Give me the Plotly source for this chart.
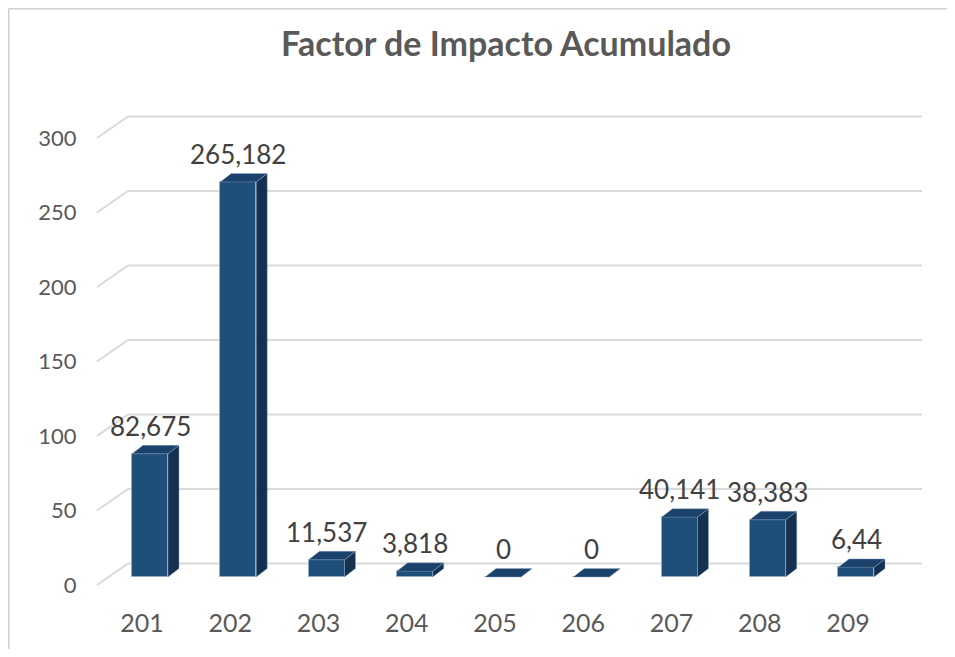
import plotly.graph_objects as go

# ---------------- data ----------------
categories = ["201", "202", "203", "204", "205", "206", "207", "208", "209"]
values = [82.675, 265.182, 11.537, 3.818, 0, 0, 40.141, 38.383, 6.44]
y_ticks = [0, 50, 100, 150, 200, 250, 300]
title_text = "Factor de Impacto Acumulado"

# ---------------- geometry (page pixels -> figure -> data units) ----------------
OFF = 8                      # page offset of the figure (body margin)
W, H = 955 - 2 * OFF, 657 - 2 * OFF
L, R, T, B = 90 - OFF, 5, 95 - OFF, 60 - OFF
PX_X = 88.25                 # pixels per category step
PX_Y = 1.49                  # pixels per value unit
X0_PX = 150.0 - OFF          # figure px of first bar centre
Y0_PX = 577.0 - OFF          # figure px of zero on the bar plane

x_range = [(L - X0_PX) / PX_X, (W - R - X0_PX) / PX_X]
y_range = [(Y0_PX - (H - B)) / PX_Y, (Y0_PX - T) / PX_Y]


def px_to_x(page_px):
    return (page_px - OFF - X0_PX) / PX_X


bar_w = 36 / PX_X            # bar width in x units
dep_x = 11 / PX_X            # bar depth offset (x)
dep_y = 8.5 / PX_Y           # bar depth offset (y)

# gridline planes
front_x = px_to_x(97)
back_x = px_to_x(128)
end_x = px_to_x(922)
front_dy = -8 / PX_Y
back_dy = 13.5 / PX_Y

FRONT = "#1F4E79"
SIDE = "#14314F"
TOP = "#1A426A"
GRID = "#D9D9D9"

xs = list(range(len(categories)))

fig = go.Figure()

# front faces
fig.add_trace(go.Bar(
    x=xs, y=values, width=bar_w,
    marker=dict(color=FRONT, line=dict(color="rgba(150,175,205,0.7)", width=1)),
    hoverinfo="skip", showlegend=False,
))

# side faces & top faces
sx, sy, tx, ty = [], [], [], []
for i, v in zip(xs, values):
    r = i + bar_w / 2
    l = i - bar_w / 2
    sx += [r, r + dep_x, r + dep_x, r, r, None]
    sy += [0, dep_y, v + dep_y, v, 0, None]
    tx += [l, l + dep_x, r + dep_x, r, l, None]
    ty += [v, v + dep_y, v + dep_y, v, v, None]

fig.add_trace(go.Scatter(x=sx, y=sy, mode="lines", fill="toself", fillcolor=SIDE,
                         line=dict(color="rgba(150,175,205,0.5)", width=0.8),
                         hoverinfo="skip", showlegend=False))
fig.add_trace(go.Scatter(x=tx, y=ty, mode="lines", fill="toself", fillcolor=TOP,
                         line=dict(color="rgba(150,175,205,0.5)", width=0.8),
                         hoverinfo="skip", showlegend=False))

# gridlines (back wall + floor diagonals)
shapes = []
for g in y_ticks:
    shapes.append(dict(type="line", xref="x", yref="y", layer="below",
                       x0=back_x, y0=g + back_dy, x1=end_x, y1=g + back_dy,
                       line=dict(color=GRID, width=2)))
    shapes.append(dict(type="line", xref="x", yref="y", layer="below",
                       x0=front_x, y0=g + front_dy, x1=back_x, y1=g + back_dy,
                       line=dict(color=GRID, width=2)))

# chart border (only left and top edges are visible in the crop)
pw = W - L - R
ph = H - T - B
bx = (0.5 - L) / pw
by = 1 - (0.5 - T) / ph
shapes.append(dict(type="line", xref="paper", yref="paper",
                   x0=bx, x1=bx, y0=by, y1=1 - (H + 5 - T) / ph,
                   line=dict(color="#D0D0D0", width=2), layer="below"))
shapes.append(dict(type="line", xref="paper", yref="paper",
                   x0=bx, x1=(W + 5 - L) / pw, y0=by, y1=by,
                   line=dict(color="#D0D0D0", width=2), layer="below"))


def fmt(v):
    return f"{v:g}".replace(".", ",")


annotations = []
for i, v in zip(xs, values):
    annotations.append(dict(x=i, y=v, xref="x", yref="y", text=fmt(v),
                            showarrow=False, yshift=28,
                            font=dict(family="Lato", size=26, color="#404040")))

fig.update_layout(
    width=W, height=H,
    margin=dict(l=L, r=R, t=T, b=B, pad=0),
    paper_bgcolor="white", plot_bgcolor="rgba(0,0,0,0)",
    title=dict(text=f"<b>{title_text}</b>", x=(506 - OFF) / W, xref="container",
               xanchor="center", y=1 - (44 - OFF) / H, yref="container", yanchor="middle",
               font=dict(family="Lato", size=34, color="#595959")),
    shapes=shapes,
    annotations=annotations,
    bargap=0,
    showlegend=False,
    xaxis=dict(range=x_range, tickmode="array", tickvals=xs, ticktext=categories,
               showgrid=False, zeroline=False, showline=False,
               ticks="outside", ticklen=4, tickcolor="rgba(0,0,0,0)",
               ticklabelshift=-8,
               tickfont=dict(family="Lato", size=25, color="#595959")),
    yaxis=dict(range=y_range, tickmode="array", tickvals=y_ticks,
               showgrid=False, zeroline=False, showline=False,
               ticks="outside", ticklen=8, tickcolor="rgba(0,0,0,0)",
               ticklabelshift=8,
               tickfont=dict(family="Lato", size=22, color="#595959")),
)

fig.write_html("out.html")
